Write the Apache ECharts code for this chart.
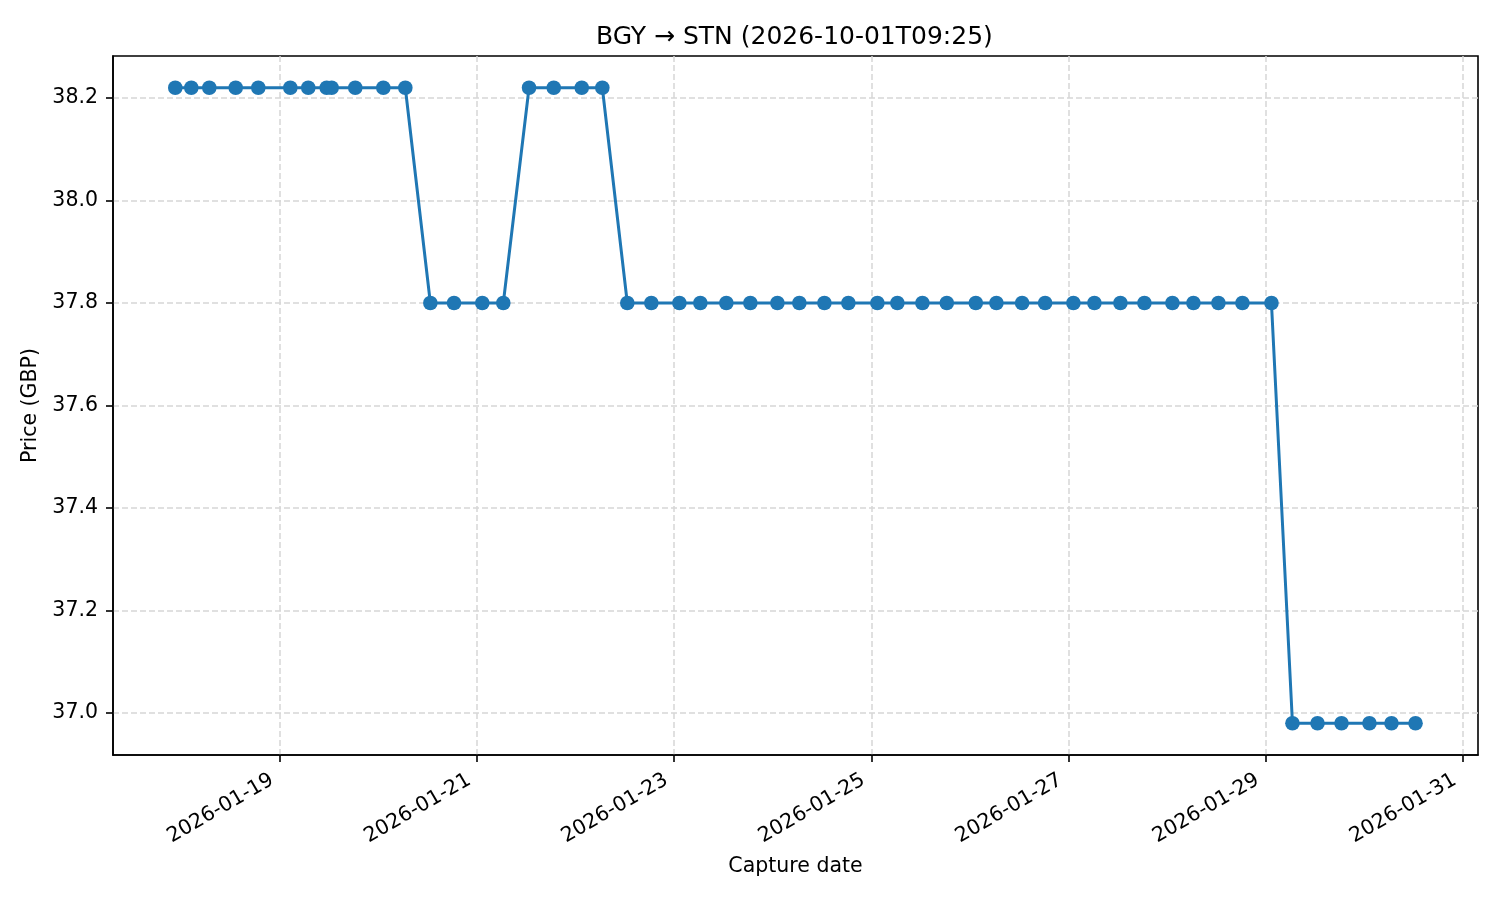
<!DOCTYPE html>
<html>
<head>
<meta charset="utf-8">
<script src="https://cdn.jsdelivr.net/npm/echarts@6.0.0/dist/echarts.min.js"></script>
<style>
  html, body { margin: 0; padding: 0; background: #ffffff; }
  #chart { width: 1500px; height: 900px; }
</style>
</head>
<body>
<div id="chart"></div>
<script>
// ---- data ----
const captureTimes = [
  '2026-01-17T22:30', '2026-01-18T02:24', '2026-01-18T06:47', '2026-01-18T13:13', '2026-01-18T18:43',
  '2026-01-19T02:31', '2026-01-19T06:53', '2026-01-19T11:22', '2026-01-19T12:35', '2026-01-19T18:20',
  '2026-01-20T01:10', '2026-01-20T06:31',
  '2026-01-20T12:37', '2026-01-20T18:23', '2026-01-21T01:16', '2026-01-21T06:23',
  '2026-01-21T12:39', '2026-01-21T18:40', '2026-01-22T01:29', '2026-01-22T06:30',
  '2026-01-22T12:35', '2026-01-22T18:26',
  '2026-01-23T01:16', '2026-01-23T06:22', '2026-01-23T12:42', '2026-01-23T18:33',
  '2026-01-24T01:08', '2026-01-24T06:29', '2026-01-24T12:35', '2026-01-24T18:25',
  '2026-01-25T01:29', '2026-01-25T06:21', '2026-01-25T12:27', '2026-01-25T18:23',
  '2026-01-26T01:27', '2026-01-26T06:28', '2026-01-26T12:44', '2026-01-26T18:20',
  '2026-01-27T01:13', '2026-01-27T06:20', '2026-01-27T12:40', '2026-01-27T18:31',
  '2026-01-28T01:20', '2026-01-28T06:27', '2026-01-28T12:32', '2026-01-28T18:23',
  '2026-01-29T01:27',
  '2026-01-29T06:34', '2026-01-29T12:40', '2026-01-29T18:31',
  '2026-01-30T01:19', '2026-01-30T06:41', '2026-01-30T12:32'
];
const prices = [
  38.22, 38.22, 38.22, 38.22, 38.22,
  38.22, 38.22, 38.22, 38.22, 38.22,
  38.22, 38.22,
  37.80, 37.80, 37.80, 37.80,
  38.22, 38.22, 38.22, 38.22,
  37.80, 37.80,
  37.80, 37.80, 37.80, 37.80,
  37.80, 37.80, 37.80, 37.80,
  37.80, 37.80, 37.80, 37.80,
  37.80, 37.80, 37.80, 37.80,
  37.80, 37.80, 37.80, 37.80,
  37.80, 37.80, 37.80, 37.80,
  37.80,
  36.98, 36.98, 36.98,
  36.98, 36.98, 36.98
];
const xTickLabels = ['2026-01-19', '2026-01-21', '2026-01-23', '2026-01-25', '2026-01-27', '2026-01-29', '2026-01-31'];
const yTickValues = [37.0, 37.2, 37.4, 37.6, 37.8, 38.0, 38.2];
const xRange = ['2026-01-17T07:20', '2026-01-31T03:45'];
const yRange = [36.918, 38.282];
const titleText = 'BGY → STN (2026-10-01T09:25)';
const xName = 'Capture date';
const yName = 'Price (GBP)';

// ---- build ----
const toMs = s => Date.parse(s.length === 10 ? s + 'T00:00:00Z' : s + ':00Z');
const seriesData = captureTimes.map((t, i) => [toMs(t), prices[i]]);
const xTickValues = xTickLabels.map(toMs);

const FONT = 'DejaVu Sans';
const BLUE = '#1f77b4';
const gridLine = { show: true, lineStyle: { color: '#d6d6d6', width: 1.5, type: [6, 3] } };

const chart = echarts.init(document.getElementById('chart'), null, { renderer: 'canvas' });
chart.setOption({
  animation: false,
  backgroundColor: '#ffffff',
  title: {
    text: titleText,
    left: 596,
    top: 25,
    padding: 0,
    textStyle: { fontFamily: FONT, fontSize: 25, fontWeight: 'normal', color: '#000' }
  },
  grid: {
    left: 113, right: 22, top: 56, bottom: 145,
    show: true, borderColor: '#000', borderWidth: 1.6, backgroundColor: 'transparent',
    containLabel: false
  },
  xAxis: {
    type: 'value',
    min: toMs(xRange[0]),
    max: toMs(xRange[1]),
    name: xName,
    nameLocation: 'middle',
    nameGap: 101,
    nameTextStyle: { fontFamily: FONT, fontSize: 20.5, color: '#000' },
    axisLine: { show: true, onZero: false, lineStyle: { color: '#000', width: 1.6 } },
    axisTick: { show: true, inside: false, length: 7, customValues: xTickValues, lineStyle: { color: '#000', width: 1.6 } },
    axisLabel: {
      customValues: xTickValues,
      rotate: 30,
      margin: 19,
      padding: [0, 9, 0, 0],
      fontFamily: FONT, fontSize: 20.5, color: '#000',
      formatter: v => new Date(v).toISOString().slice(0, 10)
    },
    splitLine: gridLine
  },
  yAxis: {
    type: 'value',
    min: yRange[0],
    max: yRange[1],
    name: yName,
    nameLocation: 'middle',
    nameGap: 72,
    nameTextStyle: { fontFamily: FONT, fontSize: 20.5, color: '#000' },
    axisLine: { show: true, onZero: false, lineStyle: { color: '#000', width: 1.6 } },
    axisTick: { show: true, inside: false, length: 7, customValues: yTickValues, lineStyle: { color: '#000', width: 1.6 } },
    axisLabel: {
      customValues: yTickValues,
      margin: 15,
      fontFamily: FONT, fontSize: 20.5, color: '#000',
      formatter: v => Number(v).toFixed(1)
    },
    splitLine: gridLine
  },
  series: [{
    type: 'line',
    data: seriesData,
    symbol: 'circle',
    symbolSize: 14.6,
    showSymbol: true,
    showAllSymbol: true,
    lineStyle: { color: BLUE, width: 3 },
    itemStyle: { color: BLUE, borderWidth: 0 },
    emphasis: { disabled: true },
    z: 3
  }]
});
</script>
</body>
</html>
